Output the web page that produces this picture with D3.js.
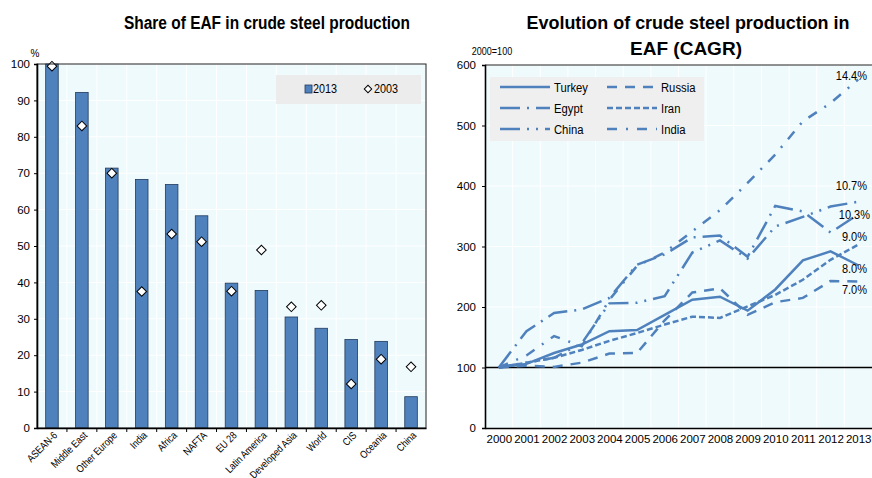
<!DOCTYPE html>
<html>
<head>
<meta charset="utf-8">
<script src="https://cdn.jsdelivr.net/npm/d3@7"></script>
<style>
  body { margin: 0; background: #fff; }
  svg text { font-family: "Liberation Sans", Arial, sans-serif; fill: #000; }
</style>
</head>
<body>
<svg id="chart" width="872" height="478"></svg>
<script>
// ---- left panel data
const regions = ["ASEAN-6", "Middle East", "Other Europe", "India", "Africa", "NAFTA", "EU 28",
  "Latin America", "Developed Asia", "World", "CIS", "Oceania", "China"];
const share2013 = [100, 92.2, 71.4, 68.3, 66.9, 58.3, 39.8, 37.8, 30.5, 27.4, 24.3, 23.8, 8.6];
const share2003 = [99.4, 83, 70, 37.5, 53.3, 51.2, 37.6, 48.9, 33.3, 33.7, 12.1, 18.9, 16.8];
const shareTicks = [0, 10, 20, 30, 40, 50, 60, 70, 80, 90, 100];

// ---- right panel data (2000=100)
const years = d3.range(2000, 2014);
const turkey = [100, 106, 124, 138, 160, 162, 187, 212, 217, 194, 229, 277, 292, 269];
const russia = [100, 103, 101, 108, 123, 124, 178, 224, 231, 187, 208, 215, 243, 242];
const iran   = [100, 108, 116, 129, 144, 157, 171, 184, 182, 201, 220, 245, 278, 303];
const egypt  = [100, 160, 190, 196, 215, 270, 287, 315, 318, 283, 367, 358, 323, 353];
const china  = [100, 108, 116, 140, 206, 207, 218, 290, 310, 280, 333, 349, 366, 374];
const india  = [100, 120, 152, 135, 212, 268, 290, 325, 360, 405, 452, 507, 537, 576];
const indexTicks = [0, 100, 200, 300, 400, 500, 600];
const cagrLabels = ["8.0%", "7.0%", "10.3%", "9.0%", "10.7%", "14.4%"];

const series = [
  { name: "Turkey", values: turkey, dash: null },
  { name: "Russia", values: russia, dash: "10,8" },
  { name: "Egypt", values: egypt, dash: "20,7,2,7" },
  { name: "Iran", values: iran, dash: "6,3" },
  { name: "China", values: china, dash: "20,7,2,7,2,7" },
  { name: "India", values: india, dash: "10,9,2,9" }
];
// CAGR label i belongs to labelSeries[i]; labelDy nudges it off the line end
const labelSeries = ["Turkey", "Russia", "Egypt", "Iran", "China", "India"];
const labelDy = [8, 12, 5, -4, -12, 0];

const blue = "#4f81bd";
const plotBg = "#effafd";
const svg = d3.select("#chart");

// squeeze a text to look like the narrow font of the original
function narrow(sel, k) {
  sel.each(function () {
    const w = this.getComputedTextLength();
    d3.select(this).attr("textLength", w * k).attr("lengthAdjust", "spacingAndGlyphs");
  });
}

// ================= left panel =================
{
  const x0 = 37, x1 = 426, y0 = 64, y1 = 428;
  const x = d3.scaleBand().domain(regions).range([x0, x1]).paddingInner(0.58).paddingOuter(0.29);
  const xb = d3.scaleBand().domain(regions).range([x0, x1]);
  const y = d3.scaleLinear().domain([0, 100]).range([y1, y0]);

  svg.append("rect").attr("x", x0).attr("y", y0).attr("width", x1 - x0).attr("height", y1 - y0)
    .attr("fill", plotBg);

  // gridlines
  svg.append("g").selectAll("line").data(shareTicks.slice(1)).join("line")
    .attr("x1", x0).attr("x2", x1).attr("y1", d => y(d)).attr("y2", d => y(d))
    .attr("stroke", "#fff").attr("stroke-width", 1);
  svg.append("g").selectAll("line").data(regions.slice(1)).join("line")
    .attr("x1", d => xb(d)).attr("x2", d => xb(d)).attr("y1", y0).attr("y2", y1)
    .attr("stroke", "#fff").attr("stroke-width", 1);

  // bars
  svg.append("g").selectAll("rect").data(regions).join("rect")
    .attr("x", d => x(d)).attr("width", x.bandwidth())
    .attr("y", (d, i) => y(share2013[i])).attr("height", (d, i) => y1 - y(share2013[i]))
    .attr("fill", blue).attr("stroke", "#203a5c").attr("stroke-width", 0.8);

  // 2003 markers
  const diamond = d3.symbol().type(d3.symbolSquare).size(46);
  svg.append("g").selectAll("path").data(regions).join("path")
    .attr("d", diamond)
    .attr("transform", (d, i) => `translate(${x(d) + x.bandwidth() / 2},${y(share2003[i])}) rotate(45)`)
    .attr("fill", "#fff").attr("stroke", "#000").attr("stroke-width", 1);

  // frame
  svg.append("rect").attr("x", x0).attr("y", y0).attr("width", x1 - x0).attr("height", y1 - y0)
    .attr("fill", "none").attr("stroke", "#222").attr("stroke-width", 1);

  // axes
  const yAxis = svg.append("g").attr("transform", `translate(${x0},0)`)
    .call(d3.axisLeft(y).tickValues(shareTicks).tickSize(3).tickPadding(4));
  yAxis.select(".domain").attr("stroke", "#000").attr("stroke-width", 1.6);
  yAxis.selectAll("text").attr("font-size", 11.5);

  const xAxis = svg.append("g").attr("transform", `translate(0,${y1})`)
    .call(d3.axisBottom(xb).tickSize(0).tickFormat(""));
  xAxis.select(".domain").attr("stroke", "#000").attr("stroke-width", 1.6);
  svg.append("g").selectAll("line").data(regions.slice(1)).join("line")
    .attr("x1", d => xb(d)).attr("x2", d => xb(d)).attr("y1", y1).attr("y2", y1 + 4)
    .attr("stroke", "#000");
  svg.append("g").selectAll("text").data(regions).join("text")
    .attr("transform", d => `translate(${x(d) + x.bandwidth() / 2 + 6},${y1 + 8}) rotate(-45)`)
    .attr("text-anchor", "end").attr("font-size", 10.5)
    .text(d => d)
    .call(narrow, 0.84);

  // legend
  svg.append("rect").attr("x", 276).attr("y", 75).attr("width", 145).attr("height", 29).attr("fill", "#ececec");
  svg.append("rect").attr("x", 305).attr("y", 85).attr("width", 7).attr("height", 8)
    .attr("fill", blue).attr("stroke", "#203a5c").attr("stroke-width", 0.8);
  svg.append("text").attr("x", 313).attr("y", 93).attr("font-size", 12).text("2013").call(narrow, 0.9);
  svg.append("path").attr("d", d3.symbol().type(d3.symbolSquare).size(28))
    .attr("transform", "translate(368,89) rotate(45)").attr("fill", "#fff").attr("stroke", "#000");
  svg.append("text").attr("x", 374).attr("y", 93).attr("font-size", 12).text("2003").call(narrow, 0.9);

  svg.append("text").attr("x", 35).attr("y", 57).attr("text-anchor", "middle").attr("font-size", 10).text("%");
  svg.append("text").attr("x", 267).attr("y", 29).attr("text-anchor", "middle")
    .attr("font-size", 18).attr("font-weight", "bold")
    .attr("textLength", 286).attr("lengthAdjust", "spacingAndGlyphs")
    .text("Share of EAF in crude steel production");
}

// ================= right panel =================
{
  const x0 = 485, x1 = 872, y0 = 65, y1 = 428;
  const x = d3.scalePoint().domain(years).range([x0, x1]).padding(0.5);
  const step = x.step();
  const y = d3.scaleLinear().domain([0, 600]).range([y1, y0]);

  svg.append("rect").attr("x", x0).attr("y", y0).attr("width", x1 - x0).attr("height", y1 - y0)
    .attr("fill", plotBg);
  svg.append("g").selectAll("line").data(indexTicks.slice(1)).join("line")
    .attr("x1", x0).attr("x2", x1).attr("y1", d => y(d)).attr("y2", d => y(d))
    .attr("stroke", "#fff");
  svg.append("g").selectAll("line").data(years.slice(1)).join("line")
    .attr("x1", d => x(d) - step / 2).attr("x2", d => x(d) - step / 2).attr("y1", y0).attr("y2", y1)
    .attr("stroke", "#fff");

  // base line at 100
  svg.append("line").attr("x1", x0).attr("x2", x1).attr("y1", y(100)).attr("y2", y(100))
    .attr("stroke", "#000").attr("stroke-width", 1.3);

  // legend box
  svg.append("rect").attr("x", 490).attr("y", 77).attr("width", 214).attr("height", 64).attr("fill", "#efefef");
  const legendOrder = ["Turkey", "Russia", "Egypt", "Iran", "China", "India"];
  legendOrder.forEach((n, i) => {
    const s = series.find(d => d.name === n);
    const lx = i % 2 === 0 ? 500 : 607;
    const ly = 87 + Math.floor(i / 2) * 21;
    svg.append("line").attr("x1", lx).attr("x2", lx + 50).attr("y1", ly).attr("y2", ly)
      .attr("stroke", blue).attr("stroke-width", 2.5).attr("stroke-dasharray", s.dash);
    svg.append("text").attr("x", lx + 54).attr("y", ly + 4.5).attr("font-size", 12.5).text(n).call(narrow, 0.9);
  });

  // lines
  const line = d3.line().x((d, i) => x(years[i])).y(d => y(d));
  svg.append("g").selectAll("path").data(series).join("path")
    .attr("d", d => line(d.values))
    .attr("fill", "none").attr("stroke", blue).attr("stroke-width", 2.5)
    .attr("stroke-dasharray", d => d.dash).attr("stroke-linejoin", "miter");

  // CAGR labels
  svg.append("g").selectAll("text").data(cagrLabels).join("text")
    .attr("x", (d, i) => i === 2 ? 870 : 867)
    .attr("y", (d, i) => {
      const s = series.find(e => e.name === labelSeries[i]);
      return y(s.values[s.values.length - 1]) + labelDy[i];
    })
    .attr("text-anchor", "end").attr("font-size", 12.5).text(d => d)
    .call(narrow, 0.88);

  // frame (top) and axes
  svg.append("line").attr("x1", x0).attr("x2", x1).attr("y1", y0).attr("y2", y0).attr("stroke", "#222");
  const yAxis = svg.append("g").attr("transform", `translate(${x0},0)`)
    .call(d3.axisLeft(y).tickValues(indexTicks).tickSize(3).tickPadding(6));
  yAxis.select(".domain").attr("stroke", "#000").attr("stroke-width", 1.6);
  yAxis.selectAll("text").attr("font-size", 11.5);

  const xAxis = svg.append("g").attr("transform", `translate(0,${y1})`)
    .call(d3.axisBottom(x).tickSize(0).tickPadding(7));
  xAxis.select(".domain").attr("stroke", "#000").attr("stroke-width", 1.6);
  xAxis.selectAll("text").attr("font-size", 11.5);

  svg.append("text").attr("x", 492).attr("y", 55).attr("text-anchor", "middle").attr("font-size", 10)
    .text("2000=100").call(narrow, 0.9);
  svg.append("text").attr("x", 688).attr("y", 29).attr("text-anchor", "middle")
    .attr("font-size", 18).attr("font-weight", "bold")
    .attr("textLength", 323).attr("lengthAdjust", "spacingAndGlyphs")
    .text("Evolution of crude steel production in");
  svg.append("text").attr("x", 686).attr("y", 55).attr("text-anchor", "middle")
    .attr("font-size", 18).attr("font-weight", "bold")
    .attr("textLength", 112).attr("lengthAdjust", "spacingAndGlyphs")
    .text("EAF (CAGR)");
}
</script>
</body>
</html>
